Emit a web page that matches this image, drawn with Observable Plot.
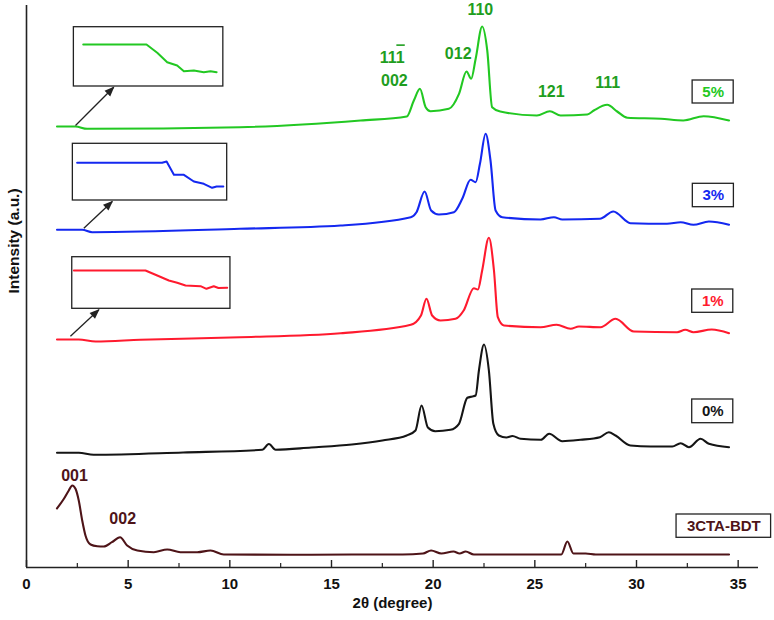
<!DOCTYPE html>
<html><head><meta charset="utf-8">
<script src="https://cdn.jsdelivr.net/npm/d3@7"></script>
<script src="https://cdn.jsdelivr.net/npm/@observablehq/plot@0.6"></script>
<style>body{margin:0;background:#fff;}</style>
</head><body><div id="chart"></div>
<script>
// ---- data: [2θ (degree), intensity (a.u., stacked)] ----
const bdt = [[1.5,59],[1.84,68.7],[2.08,77],[2.25,82],[2.41,78.7],[2.57,67],[2.74,47],[2.9,32],[3.15,23],[3.48,21.3],[3.8,21],[4.2,25.3],[4.6,30.3],[4.95,22],[5.45,17],[6.26,15.3],[6.92,18],[7.57,15.3],[8.4,15.3],[9.05,17],[9.7,13],[13,12.7],[16,13],[18.5,13],[19.5,14],[19.9,17],[20.4,14],[21.0,16],[21.3,14],[21.6,16],[22,13],[24,13],[26.3,13],[26.6,26],[26.9,14],[27.5,14],[28,13],[34.55,13]];
const p0 = [[1.5,114.7],[2.57,114.7],[3.3,112.7],[7.7,115],[11.6,117.7],[11.92,123.5],[12.25,117.7],[14,120],[16,123],[17.5,127],[18.7,132],[19.13,137],[19.43,162],[19.74,140],[20.1,136.3],[20.85,137.7],[21.27,143.7],[21.68,169.7],[21.92,171],[22.09,172],[22.25,197],[22.5,223],[22.74,197],[22.96,143.7],[23.23,132],[23.6,130],[23.9,131.5],[24.3,128.7],[25.3,127.7],[25.7,133.7],[26.35,126.3],[27.25,127.7],[28.2,130.3],[28.64,135.3],[28.97,132],[29.7,122],[30.7,121],[31.76,121],[32.17,124.3],[32.58,120.3],[33.15,128.7],[33.56,123.7],[34.55,120.3]];
const p1 = [[1.5,228],[2.57,228],[3.4,226],[5.6,227.7],[10.5,230.3],[15.45,234.3],[18.9,242.7],[19.4,252],[19.67,268.7],[19.95,252],[20.36,247],[21.1,248.7],[21.5,257],[22.0,279.3],[22.2,278],[22.41,297],[22.74,329.7],[22.99,297],[23.18,250.3],[23.48,242],[25.28,240.3],[26.07,242.7],[26.76,238.7],[27.17,241],[28.23,240.3],[28.97,248.7],[29.87,236],[32,235.3],[32.4,237.7],[32.8,235.3],[33.7,238],[34.55,234.3]];
const p3 = [[1.5,337.7],[2.74,337.7],[3.23,335.3],[10.5,338.7],[15.45,342],[18.9,350.3],[19.18,355.3],[19.58,376],[19.9,357],[20.28,353],[21.02,355.3],[21.43,368.7],[21.84,387.7],[22.09,385.3],[22.3,403.7],[22.58,433.7],[22.82,407],[23.07,357],[23.4,350.3],[25.28,348],[25.94,350.3],[26.35,348],[28.2,348.7],[28.86,356],[29.7,344.3],[31.5,343.7],[32.17,345.3],[32.8,342.7],[33.56,346],[34.55,342.7]];
const p5 = [[1.5,441],[2.41,441],[2.98,438.7],[10.5,440.3],[16.43,447],[18.7,451],[19.05,467],[19.35,478.7],[19.63,460.3],[19.87,456.3],[20.77,458.7],[21.27,473.7],[21.64,496],[21.87,488.7],[22.09,508.7],[22.41,541],[22.66,517],[22.9,460.3],[23.3,456],[25.1,452],[25.74,456.3],[26.27,452],[27.58,453],[27.9,457],[28.56,462.7],[29.05,456],[29.55,449.7],[31.2,448.7],[32.3,447],[33.3,451.3],[34.55,447]];

// inset (zoomed low-angle) curves
const inset5 = [[2.79,523],[5.9,523],[6.43,514.7],[6.92,505.3],[7.41,502],[7.74,496.3],[8.23,497],[8.72,495.3],[9.05,496.3],[9.35,495.3]];
const inset3 = [[2.49,404.7],[6.67,404.7],[6.89,406],[7.25,392.7],[7.74,392.7],[8.23,386],[8.72,383.7],[9.13,379.7],[9.35,381],[9.68,381]];
const inset1 = [[2.33,297],[5.85,297],[6.43,292],[7.0,287],[7.41,284.7],[7.82,282],[8.56,281.3],[8.85,278.7],[9.21,281.3],[9.44,279.5],[9.87,279.7]];

const sampleNames = ["3CTA-BDT","0%","1%","3%","5%"];
const sampleColors = ["#4e1418","#151515","#ff1a2e","#1428f0","#22c822"];
const hklGreen = ["111\u0305","002","012","110","121","111"];
const hklBDT = ["001","002"];
const xTicks = [0,5,10,15,20,25,30,35];
const xMinor = [2.5,7.5,12.5,17.5,22.5,27.5,32.5];

// ---- layout (not data) ----
const FONT = '"Liberation Sans", Arial, Helvetica, sans-serif';
const HKL_COLOR = "#1e9e1e";
const series = [bdt,p0,p1,p3,p5];
const lineData = series.flatMap((s,i)=>s.map(([x,y])=>({x,y,name:sampleNames[i]})));
const colorOf = Object.fromEntries(sampleNames.map((n,i)=>[n,sampleColors[i]]));

const insetBoxes = [
  {x1:2.33,x2:9.68,y1:481,y2:540.3,curve:inset5,color:sampleColors[4],ax1:2.41,ay1:442,ax2:4.29,ay2:480.3},
  {x1:2.28,x2:9.87,y1:367,y2:423.7,curve:inset3,color:sampleColors[3],ax1:2.82,ay1:339.3,ax2:4.22,ay2:366},
  {x1:2.25,x2:10.03,y1:258.7,y2:310.3,curve:inset1,color:sampleColors[2],ax1:2.16,ay1:231.3,ax2:3.56,ay2:257.7}
];
const insetLines = insetBoxes.flatMap((b,i)=>b.curve.map(([x,y])=>({x,y,k:i,color:b.color})));

const hklPos = [[17.99,509.5],[18.09,487],[21.23,513.7],[22.32,557.7],[25.81,475.7],[28.58,484.3]];
const hklData = hklGreen.map((t,i)=>({t,x:hklPos[i][0],y:hklPos[i][1]}));
const bdtPos = [[2.36,91.5],[4.73,48.2]];
const bdtData = hklBDT.map((t,i)=>({t,x:bdtPos[i][0],y:bdtPos[i][1]}));

const boxes = [
  {t:"3CTA-BDT",x1:31.97,x2:36.62,y1:29.7,y2:53},
  {t:"0%",x1:32.74,x2:34.76,y1:144.3,y2:168},
  {t:"1%",x1:32.74,x2:34.76,y1:254.7,y2:278},
  {t:"3%",x1:32.77,x2:34.79,y1:360.3,y2:383.7},
  {t:"5%",x1:32.76,x2:34.78,y1:464,y2:487}
].map(b=>({...b,cx:(b.x1+b.x2)/2,cy:(b.y1+b.y2)/2,color:colorOf[b.t]}));

const chart = Plot.plot({
  width: 774, height: 620,
  marginLeft: 26, marginRight: 16, marginTop: 5, marginBottom: 53,
  style: {fontFamily: FONT, background: "#fff"},
  x: {domain: [0,36]},
  y: {domain: [0,562], axis: null},
  marks: [
    Plot.axisX(xTicks, {tickSize: 0, tickPadding: 11, fontSize: 15, fontWeight: "bold", fill: "#111", label: null}),
    Plot.ruleX(xTicks, {x: d=>d, y1: 0, y2: 7, stroke: "#222", strokeWidth: 1.4}),
    Plot.ruleX(xMinor, {x: d=>d, y1: 0, y2: 4, stroke: "#222", strokeWidth: 1.2}),
    Plot.ruleY([0], {stroke: "#222", strokeWidth: 1.6}),
    Plot.ruleX([0], {stroke: "#222", strokeWidth: 1.6}),
    Plot.text(["2θ (degree)"], {frameAnchor: "bottom", dy: 40, fontSize: 15, fontWeight: "bold", fill: "#111"}),
    Plot.text(["Intensity (a.u.)"], {frameAnchor: "left", rotate: -90, dx: -12, dy: 7, fontSize: 15.5, fontWeight: "bold", fill: "#111"}),
    Plot.line(lineData, {x: "x", y: "y", z: "name", stroke: d=>colorOf[d.name], strokeWidth: 2.1, curve: "monotone-x"}),
    Plot.rect(insetBoxes, {x1: "x1", x2: "x2", y1: "y1", y2: "y2", fill: "#fff", stroke: "#222", strokeWidth: 1.3}),
    Plot.line(insetLines, {x: "x", y: "y", z: "k", stroke: "color", strokeWidth: 2}),
    Plot.link(insetBoxes, {x1: "ax1", y1: "ay1", x2: "ax2", y2: "ay2", stroke: "#222", strokeWidth: 1.3}),
    Plot.text(hklData, {x: "x", y: "y", text: "t", fill: HKL_COLOR, fontSize: 16, fontWeight: "bold"}),
    Plot.text(bdtData, {x: "x", y: "y", text: "t", fill: "#4e1418", fontSize: 16, fontWeight: "bold"}),
    Plot.rect(boxes, {x1: "x1", x2: "x2", y1: "y1", y2: "y2", fill: "#fff", stroke: "#222", strokeWidth: 1.3}),
    Plot.text(boxes, {x: "cx", y: "cy", text: "t", fill: "color", fontSize: 15, fontWeight: "bold"})
  ]
});
document.getElementById("chart").appendChild(chart);

// filled arrowheads for the inset pointers
const svg = d3.select(chart);
svg.append("defs").append("marker")
  .attr("id", "ahead").attr("viewBox", "0 0 10 10").attr("refX", 9).attr("refY", 5)
  .attr("markerUnits", "userSpaceOnUse").attr("markerWidth", 11).attr("markerHeight", 10)
  .attr("orient", "auto")
  .append("path").attr("d", "M0,1 L10,5 L0,9 Z").attr("fill", "#222");
svg.selectAll('g[aria-label="link"] path, g[aria-label="link"] line').attr("marker-end", "url(#ahead)");

// Miller index with a bar over the last digit (1 1 1̄)
svg.selectAll("text").filter(function() { return this.textContent === "111\u0305"; }).each(function() {
  this.textContent = "111";
  const s = this.getStartPositionOfChar(2), e = this.getEndPositionOfChar(2);
  const bb = this.getBBox();
  d3.select(this.parentNode).append("line")
    .attr("transform", this.getAttribute("transform"))
    .attr("x1", s.x + 0.5).attr("x2", e.x)
    .attr("y1", bb.y - 4).attr("y2", bb.y - 4)
    .attr("stroke", HKL_COLOR).attr("stroke-width", 1.6);
});
</script>
</body></html>
